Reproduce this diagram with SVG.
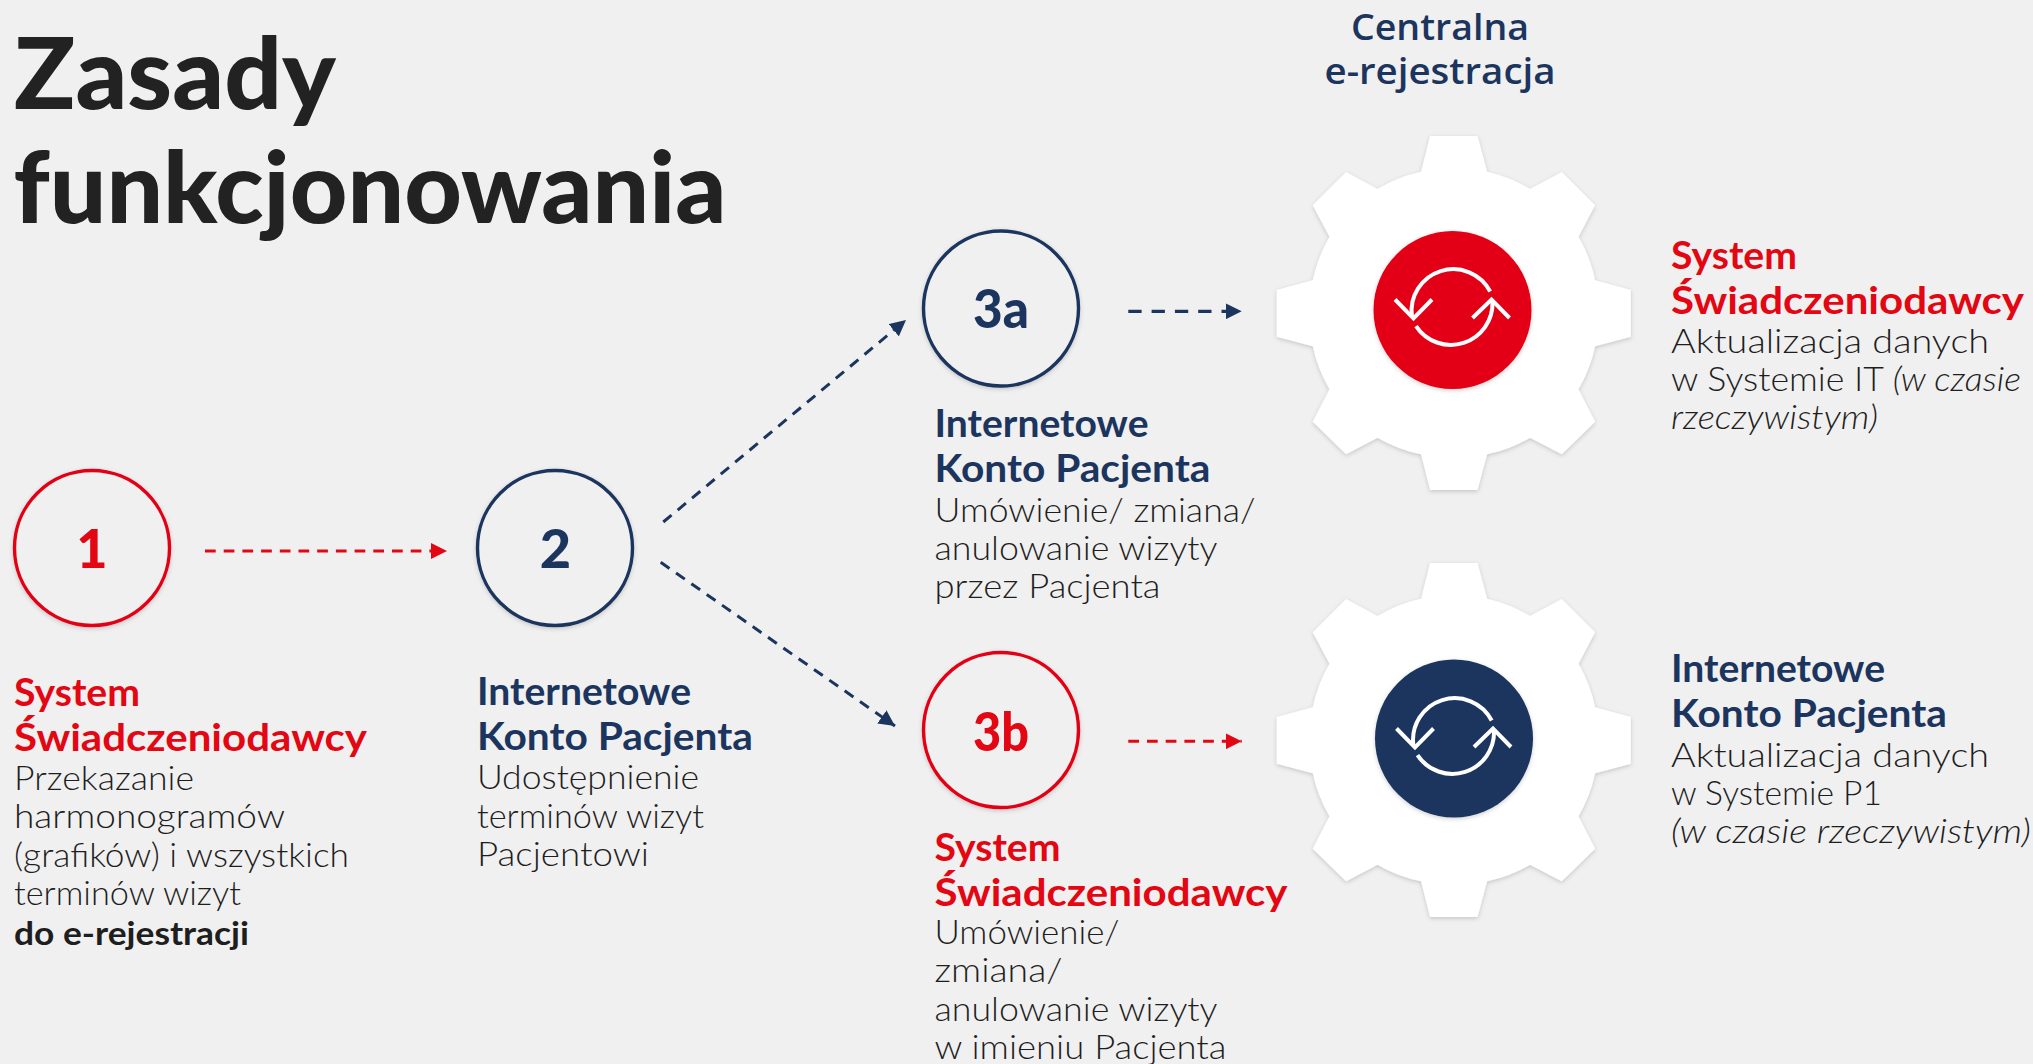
<svg xmlns="http://www.w3.org/2000/svg" xmlns:xlink="http://www.w3.org/1999/xlink" width="2033" height="1064" viewBox="0 0 2033 1064">
<style>
text{font-family:"Lato","Open Sans","Liberation Sans",sans-serif}
.h{font-size:38px;font-weight:700}
.b{font-size:33px;font-weight:300;fill:#1e1e1e}
.r{fill:#e30613}.n{fill:#1c355e}
.num{font-size:54px;font-weight:900;text-anchor:middle}
.t{font-size:100px;font-weight:900;fill:#222}
.c{font-family:"Open Sans","Liberation Sans",sans-serif;font-size:36px;font-weight:600;fill:#1c355e;text-anchor:middle}
.ring{fill:#f0f0f0;stroke-width:3.4;filter:url(#sh)}
.cr{stroke:#e30613}.cn{stroke:#1c355e}
.conn{fill:none;stroke-width:3;stroke-dasharray:10.7 8}
.long{stroke-dasharray:13.3 10;stroke-width:3.2}
.sync{fill:none;stroke:#fff;stroke-width:4}
.gear{fill:#fff;filter:url(#sh)}
</style>
<defs>
<filter id="sh" x="-10%" y="-10%" width="120%" height="120%"><feDropShadow dx="0" dy="1.5" stdDeviation="2" flood-color="#000" flood-opacity="0.18"/></filter>
<marker id="ar" viewBox="0 0 16 16" refX="16" refY="8" markerUnits="userSpaceOnUse" markerWidth="16" markerHeight="16" orient="auto"><path d="M0 0L16 8L0 16Z" fill="#e30613"/></marker>
<marker id="an" viewBox="0 0 16 16" refX="16" refY="8" markerUnits="userSpaceOnUse" markerWidth="16" markerHeight="16" orient="auto"><path d="M0 0L16 8L0 16Z" fill="#1c355e"/></marker>
<path id="g" d="M-23.7 -177L23.7 -177L33.3 -141.3A145 145 0 0 1 76.3 -124L108 -141L141.3 -107.7L124.7 -76.3A145 145 0 0 1 141.3 -32.7L177 -23L177 23.7L141.3 33.3A145 145 0 0 1 124.7 76.3L141.3 108.7L108 141.3L76.3 124.7A145 145 0 0 1 33.3 141.3L23.7 177L-23.7 177L-32.7 141.3A145 145 0 0 1 -76.3 124.7L-107.7 141.3L-141 108.7L-124.3 76.3A145 145 0 0 1 -141 33.3L-177 23.7L-177 -23L-141 -32.7A145 145 0 0 1 -124.3 -76.3L-141 -107.7L-107.7 -141L-76.3 -124A145 145 0 0 1 -32.7 -141.3Z"/>
<g id="s"><path d="M37.7 -16A41.7 41.7 0 0 0 -40.6 8.7M-36.5 18.6A41.7 41.7 0 0 0 40 -6" /><path d="M-57.5 -8L-39 11L-20.5 -8M20 10.5L39 -8L57 10.5"/></g>
</defs>
<rect width="2033" height="1064" fill="#f0f0f0"/>
<g id="title"><text class="t" x="14" y="108.5" textLength="322" lengthAdjust="spacingAndGlyphs">Zasady</text><text class="t" x="13.5" y="223" textLength="713" lengthAdjust="spacingAndGlyphs">funkcjonowania</text></g>
<g id="heading"><text class="c" x="1440" y="39.5" textLength="178" lengthAdjust="spacingAndGlyphs">Centralna</text><text class="c" x="1440" y="84" textLength="231" lengthAdjust="spacingAndGlyphs">e-rejestracja</text></g>
<g id="connectors">
<path class="conn" stroke="#e30613" marker-end="url(#ar)" d="M205 551L447 551"/>
<path class="conn" stroke="#1c355e" marker-end="url(#an)" d="M663.3 522L906 320"/>
<path class="conn" stroke="#1c355e" marker-end="url(#an)" d="M660.7 562.3L895 726"/>
<path class="conn long" stroke="#1c355e" marker-end="url(#an)" d="M1128.3 311.3L1241.7 311.3"/>
<path class="conn" stroke="#e30613" marker-end="url(#ar)" d="M1128.3 741.3L1241.7 741.3"/>
</g>
<g id="node-1"><circle class="ring cr" cx="92" cy="548" r="77.5"/><text class="num r" x="92" y="568">1</text>
<text class="h r" x="14" y="706" textLength="126" lengthAdjust="spacingAndGlyphs">System</text><text class="h r" x="14" y="751" textLength="353" lengthAdjust="spacingAndGlyphs">Świadczeniodawcy</text>
<text class="b" x="14" y="789.5" textLength="180" lengthAdjust="spacingAndGlyphs">Przekazanie</text><text class="b" x="14" y="828" textLength="271" lengthAdjust="spacingAndGlyphs">harmonogramów</text><text class="b" x="14" y="867" textLength="335" lengthAdjust="spacingAndGlyphs">(grafików) i wszystkich</text><text class="b" x="14" y="905" textLength="227" lengthAdjust="spacingAndGlyphs">terminów wizyt</text><text class="b" x="14" y="944.5" textLength="235" lengthAdjust="spacingAndGlyphs" style="font-weight:700">do e-rejestracji</text></g>
<g id="node-2"><circle class="ring cn" cx="555" cy="548" r="77.5"/><text class="num n" x="555.5" y="568">2</text>
<text class="h n" x="477" y="705" textLength="214" lengthAdjust="spacingAndGlyphs">Internetowe</text><text class="h n" x="477" y="750" textLength="276" lengthAdjust="spacingAndGlyphs">Konto Pacjenta</text>
<text class="b" x="477" y="789" textLength="222" lengthAdjust="spacingAndGlyphs">Udostępnienie</text><text class="b" x="477" y="828" textLength="227" lengthAdjust="spacingAndGlyphs">terminów wizyt</text><text class="b" x="477" y="866" textLength="172" lengthAdjust="spacingAndGlyphs">Pacjentowi</text></g>
<g id="node-3a"><circle class="ring cn" cx="1001" cy="308.5" r="77.5"/><text class="num n" x="1001" y="328" textLength="56" lengthAdjust="spacingAndGlyphs">3a</text>
<text class="h n" x="934.5" y="437" textLength="214" lengthAdjust="spacingAndGlyphs">Internetowe</text><text class="h n" x="934.5" y="482" textLength="276" lengthAdjust="spacingAndGlyphs">Konto Pacjenta</text>
<text class="b" x="934.5" y="522" textLength="321" lengthAdjust="spacingAndGlyphs">Umówienie/ zmiana/</text><text class="b" x="934.5" y="560" textLength="283" lengthAdjust="spacingAndGlyphs">anulowanie wizyty</text><text class="b" x="934.5" y="598" textLength="226" lengthAdjust="spacingAndGlyphs">przez Pacjenta</text></g>
<g id="node-3b"><circle class="ring cr" cx="1001" cy="730" r="77.5"/><text class="num r" x="1001" y="751" textLength="56" lengthAdjust="spacingAndGlyphs">3b</text>
<text class="h r" x="934.5" y="861" textLength="126" lengthAdjust="spacingAndGlyphs">System</text><text class="h r" x="934.5" y="906" textLength="353" lengthAdjust="spacingAndGlyphs">Świadczeniodawcy</text>
<text class="b" x="934.5" y="944" textLength="185" lengthAdjust="spacingAndGlyphs">Umówienie/</text><text class="b" x="934.5" y="982" textLength="128" lengthAdjust="spacingAndGlyphs">zmiana/</text><text class="b" x="934.5" y="1021" textLength="283" lengthAdjust="spacingAndGlyphs">anulowanie wizyty</text><text class="b" x="934.5" y="1059" textLength="292" lengthAdjust="spacingAndGlyphs">w imieniu Pacjenta</text></g>
<g id="gear-top"><use xlink:href="#g" href="#g" class="gear" x="1453.8" y="313"/><circle cx="1452.5" cy="310" r="79" fill="#e30613" filter="url(#sh)"/><use xlink:href="#s" href="#s" class="sync" x="1452.5" y="307.5"/>
<text class="h r" x="1671" y="269" textLength="126" lengthAdjust="spacingAndGlyphs">System</text><text class="h r" x="1671" y="314" textLength="353" lengthAdjust="spacingAndGlyphs">Świadczeniodawcy</text>
<text class="b" x="1671" y="353" textLength="318" lengthAdjust="spacingAndGlyphs">Aktualizacja danych</text><text class="b" x="1671" y="391" textLength="350" lengthAdjust="spacingAndGlyphs">w Systemie IT <tspan font-style="italic">(w czasie</tspan></text><text class="b" x="1671" y="429" textLength="207" lengthAdjust="spacingAndGlyphs" font-style="italic">rzeczywistym)</text></g>
<g id="gear-bottom"><use xlink:href="#g" href="#g" class="gear" x="1453.8" y="740"/><circle cx="1454" cy="738.5" r="79" fill="#1c355e" filter="url(#sh)"/><use xlink:href="#s" href="#s" class="sync" x="1454" y="736.5"/>
<text class="h n" x="1671" y="682" textLength="214" lengthAdjust="spacingAndGlyphs">Internetowe</text><text class="h n" x="1671" y="727" textLength="276" lengthAdjust="spacingAndGlyphs">Konto Pacjenta</text>
<text class="b" x="1671" y="767" textLength="318" lengthAdjust="spacingAndGlyphs">Aktualizacja danych</text><text class="b" x="1671" y="805" textLength="211" lengthAdjust="spacingAndGlyphs">w Systemie P1</text><text class="b" x="1671" y="843" textLength="360" lengthAdjust="spacingAndGlyphs" font-style="italic">(w czasie rzeczywistym)</text></g>
</svg>
